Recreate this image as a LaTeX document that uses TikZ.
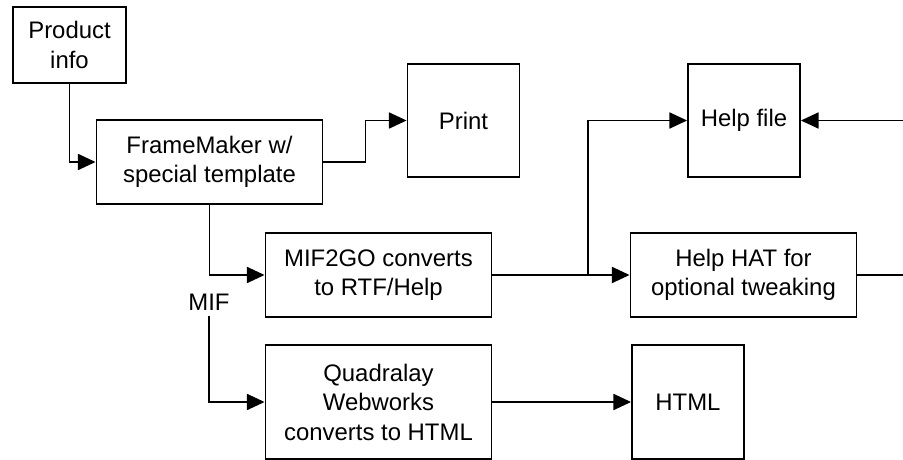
\documentclass[tikz,border=0pt]{standalone}
\usepackage{fontspec}
\setmainfont{Liberation Sans}
\usetikzlibrary{arrows.meta}

\begin{document}
\begin{tikzpicture}[x=0.025cm, y=-0.025cm, line width=1.3pt,
    >={Triangle[length=0.44cm,width=0.4cm]}]
    \tikzstyle{every node}+=[font=\fontsize{17}{21}\selectfont, align=center]
    \tikzstyle{smallbox}=[draw, minimum width=2.8cm, minimum height=2.83cm, inner sep=0pt]
    \tikzstyle{widebox}=[draw, minimum width=5.65cm, minimum height=2.1cm, inner sep=0pt]
    \useasboundingbox (0,0) rectangle (903,460);
    \node [draw, minimum width=2.83cm, minimum height=1.9cm, inner sep=0pt] (prod) at (69.5,45) {Product\\info};
    \node [widebox] (fm) at (209.5,162) {FrameMaker w/\\special template};
    \node [smallbox] (print) at (463.5,120.5) {Print};
    \node [widebox] (mif2go) at (378.5,275) {MIF2GO converts\\to RTF/Help};
    \node [widebox, minimum height=2.85cm] (quad) at (378.5,402) {Quadralay\\Webworks\\converts to HTML};
    \node [smallbox, minimum height=2.85cm] (html) at (688,402) {HTML};
    \node [smallbox] (helpfile) at (744,120.5) {Help file};
    \node [widebox] (hhat) at (743.5,275) {Help HAT for\\optional tweaking};
    \node (mif) at (209,302) {MIF};
    \coordinate (split) at (588,275);
    \coordinate (outR) at (903,275);
    \coordinate (inR) at (903,120.5);
    \draw [->] (prod.south) |- (fm.west);
    \draw [->] (fm.east) -- ++(42,0) |- (print.west);
    \draw [->] (fm.south) |- (mif2go.west);
    \draw [->] (mif.south) |- (quad.west);
    \draw [->] (mif2go.east) -- (hhat.west);
    \draw [->] (split) |- (helpfile.west);
    \draw (hhat.east) -- (outR);
    \draw [->] (inR) -- (helpfile.east);
    \draw [->] (quad.east) -- (html.west);
\end{tikzpicture}
\end{document}
